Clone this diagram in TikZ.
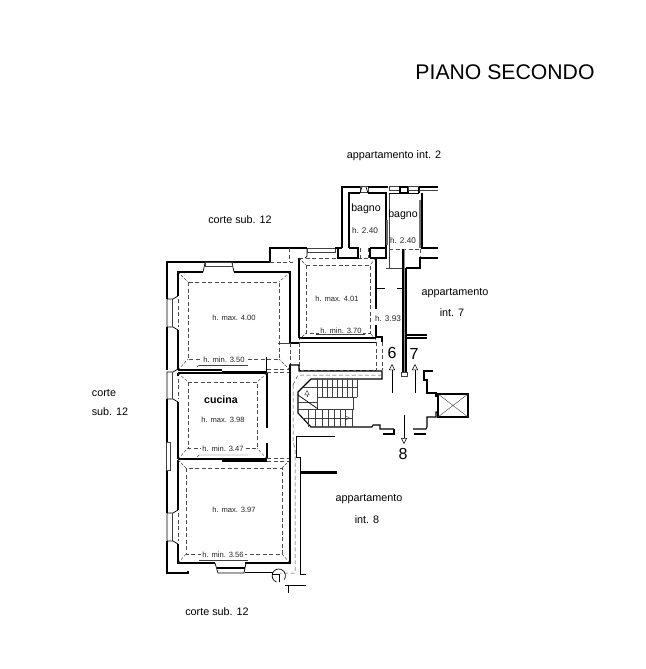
\documentclass[tikz,border=0pt]{standalone}
\usepackage{fontspec}
\setmainfont{Liberation Sans}
\usetikzlibrary{arrows.meta}
\tikzset{
 wall/.style={line width=1.1pt,black,line join=miter},
 wallb/.style={line width=1.9pt,black},
 med/.style={line width=0.7pt,black},
 thin1/.style={line width=0.4pt,black!75},
 dsh/.style={line width=0.5pt,black!70,dash pattern=on 4pt off 2.5pt},
 lab/.style={font=\fontsize{10.8}{12}\selectfont,inner sep=0pt},
 hlab/.style={font=\fontsize{7.6}{9}\selectfont,inner sep=0pt,text=black!85},
 hlabm/.style={font=\fontsize{8.2}{10}\selectfont,inner sep=0pt,text=black!85},
 hlabb/.style={font=\fontsize{10.6}{12}\selectfont,inner sep=0pt},
 num/.style={font=\fontsize{16}{18}\selectfont,inner sep=0pt},
 dirarrow/.style={line width=0.5pt,-{Triangle[open,length=6pt,width=6pt]}},
}
\begin{document}
\begin{tikzpicture}[x=1pt,y=-1pt]
\useasboundingbox (0,0) rectangle (645,669);
\fill[white] (0,0) rectangle (645,669);

% --- outer walls, left building
\draw[wall] (270,262) -- (167,262) -- (167,299);
\draw[wall] (167,327) -- (167,370);
\draw[wall] (167,399) -- (167,442);
\draw[wall] (167,470) -- (167,513);
\draw[wall] (167,541) -- (167,573) -- (188,573) -- (188,571);
\draw[wall] (270,262) -- (270,248) -- (307,248);
\draw[dsh] (270,262) -- (293,262) (289,248) -- (289,262);
% left windows
\foreach \a/\b in {299/327,372/399,513/541}{
 \draw[med] (178,\a-3) -- (173,\a) -- (167,\a) -- (167,\b) -- (173,\b) -- (178,\b+3);
 \draw[thin1] (172,\a) -- (172,\b);
 \draw[dsh] (178,\a) -- (178,\b);
}
\draw[thin1] (166,442) rectangle (170,470);
% --- room 1
\draw[wall] (203,272) -- (178,272) -- (178,296);
\draw[wall] (178,330) -- (178,370);
\draw[wall] (234,272) -- (290,272) -- (290,343) -- (299,343);
\draw[med] (203,272) -- (205,263) (234,272) -- (232,263);
\draw[thin1] (205,262) rectangle (232,266);
\draw[dsh] (188,282) rectangle (279,359);
\foreach \a/\b/\c/\d in {178/272/188/282,290/272/279/282,178/370/188/359,290/370/279/359}{\draw[thin1,dash pattern=on 3pt off 1.5pt] (\a,\b) -- (\c,\d);}
\draw[thin1] (199,365) -- (248,365);
\draw[thin1] (199,365) -- (197,367);
% --- between rooms
\draw[wall] (178,370) -- (222,370);
\draw[wall] (178,373) -- (267,373);
\draw[med] (222,371) -- (267,371);
\draw[med] (266,357) -- (266,371);
\draw[thin1] (278,343) -- (290,343);
\draw[dsh] (267,369) -- (289,369) (267,372) -- (289,372);
\draw[dsh] (290,343) -- (290,365) (299,343) -- (299,365);
% --- cucina
\draw[wall] (178,373) -- (178,376) (178,402) -- (178,459);
\draw[wallb] (267,373) -- (267,428);
\draw[wallb] (267,443) -- (267,459);
\draw[wall] (178,459) -- (267,459);
\draw[wall] (222,461) -- (267,461);
\draw[dsh] (188,382) rectangle (257,448);
\foreach \a/\b/\c/\d in {178/373/188/382,267/373/257/382,178/459/188/448,267/459/257/448}{\draw[thin1,dash pattern=on 3pt off 1.5pt] (\a,\b) -- (\c,\d);}
\draw[thin1] (199,455) -- (248,455) (199,455) -- (197,457);
\draw[dsh] (267,458) -- (289,458) (267,461) -- (289,461);
% --- room 3
\draw[wall] (178,460) -- (178,510) (178,544) -- (178,563) -- (215,563);
\draw[wall] (245,563) -- (290,563) -- (290,365);
\draw[med] (215,563) -- (218,573) -- (244,573) -- (246,563);
\draw[wall] (217,568) -- (245,568);
\draw[dsh] (186,468) rectangle (282,554);
\foreach \a/\b/\c/\d in {178/460/186/468,290/460/282/468,178/563/186/554,290/563/282/554}{\draw[thin1,dash pattern=on 3pt off 1.5pt] (\a,\b) -- (\c,\d);}
\draw[thin1] (199,560) -- (248,560) ;
\draw[dsh] (293,385) -- (293,440) -- (295,450) -- (295,573) -- (280,573);
\draw[med] (245,572) -- (272,572) -- (272,574) -- (279,574) -- (279,582);
\draw[med] (285,585) -- (306,585);
\draw[med] (276.5,582) arc[start angle=110,end angle=395,radius=6.7];
\draw[med] (288,585) -- (288,593);
\draw[med] (306,574.5) -- (300,574.5) -- (300,473);
% lower-right stub walls
\draw[wall] (300,473) -- (337,473);
\draw[med] (300,471) -- (337,471);
\draw[med] (335,436) -- (296,436) -- (296,457) -- (300,457) -- (300,473);

% --- room 2
\draw[wall] (299,262) -- (299,338);
\draw[wall] (299,338) -- (376,338);
\draw[med] (299,342) -- (376,342) ;
\draw[wall] (376,258) -- (376,309);
\draw[wall] (376,325) -- (376,337) -- (382,337) -- (382,342);
\draw[med] (376,288) -- (385,288);
\draw[med] (397,288) -- (404,288);
\draw[dsh] (299,258) -- (370,258);
\draw[wall] (299,258) -- (299,262);
\draw[dsh] (306,265) rectangle (370,333);
\draw[thin1,dash pattern=on 3pt off 1.5pt] (299,258) -- (306,265) (376,258) -- (370,265) (299,340) -- (306,333) (376,340) -- (370,333);
\draw[thin1] (316,334) -- (365,334);
\draw[med] (307,248) -- (307,256) -- (305,258);
\draw[thin1] (307,248) rectangle (335,252);
\draw[wall] (335,248) -- (342,248) (338,248) -- (338,258) -- (358,258) -- (358,248) -- (349,248);
\draw[wall] (342,248) -- (342,187) -- (360,187);
\draw[thin1] (360,186) rectangle (368,192);
\draw[wall] (368,187) -- (388,187);
\draw[med] (362,187) -- (360,193) (366,187) -- (368,193);
% bagno 1
\draw[wall] (360,193) -- (349,193) -- (349,248);
\draw[wall] (368,193) -- (386,193) -- (386,258) -- (370,258);
\draw[wall] (370,248) -- (386,248) (370,248) -- (370,258);
\draw[dsh] (360,248) -- (360,258) (368,248) -- (368,258);
\draw[wallb,black!60] (387,220) -- (387,245);
% bagno 2
\draw[thin1] (389,186) rectangle (400,190);
\draw[thin1] (389,193) -- (389,268) (386,268) -- (403,268);
\draw[wall] (400,187) rectangle (408,193);
\draw[thin1] (408,186) rectangle (418,190);
\draw[med] (389,193) -- (400,193) (408,193) -- (419,193);
\draw[wall] (419,187) -- (438,187);
\draw[wall] (419,187) -- (419,193);
\draw[wallb,black!55] (420,200) -- (420,248);
\draw[wall] (422,193) -- (422,248) -- (438,248);
\draw[thin1] (419,190) -- (438,190);
\draw[dsh] (389,249) -- (420,249);
\draw[dsh] (420,249) -- (420,258);
% long double wall
\draw[wallb,black!45] (404.5,249) -- (404.5,372);
\draw[wall] (403,249) -- (403,372);
\draw[wall] (406,268) -- (406,372);
\draw[thin1,fill=white] (401,372) rectangle (407,376);
\draw[wall] (406,268) -- (420,268) -- (420,258) -- (438,258);
\draw[wall] (406,335) -- (427,335);
\draw[wall] (406,338) -- (427,338);
\draw[dsh] (376,342) -- (376,370) (382,342) -- (382,370);
\draw[dsh] (299,342) -- (299,370) -- (376,370);
% --- landing wall and stair
\draw[wall] (289,365) -- (299,365) -- (299,371) -- (382,371) -- (382,379) -- (372,379) -- (311,379) -- (298,392) -- (298,413) -- (311,427) -- (372,427) -- (373,425) -- (380,425) -- (380,429) -- (394,429);
\draw[wall] (394,429) -- (394,434) -- (383,434);
\draw[dsh] (293,385) -- (298,375) -- (382,375);
\draw[wall] (414,434) -- (426,434);
\draw[wall] (413,429) -- (426,429) -- (427,427) -- (427,417) -- (436,417) -- (436,412) -- (438,412);
\draw[wall] (438,396) -- (436,396) -- (436,393) -- (427,393) -- (427,380) -- (424,380) -- (424,371) -- (433,371);
\draw[thin1,fill=white] (317,397) rectangle (353,409);
\foreach \x in {317,322,...,357}{\draw[thin1] (\x,379) -- (\x,397);}
\foreach \x in {308,315,322,328,334,340,345,352}{\draw[thin1] (\x,409) -- (\x,427);}
\draw[thin1] (303,387) -- (357,387) (353,397) -- (357,397) (298,402) -- (317,402);
\draw[thin1] (298,409) -- (317,409) (302,418) -- (353,418);
\draw[med] (298,395) -- (318,409);
\draw[thin1,-{Triangle[open,length=5pt,width=5pt]}] (307,397) -- (307,390);
\draw[thin1,-{Triangle[open,length=5pt,width=5pt]}] (335,418) -- (350,418);
% elevator
\draw[wall] (438,394) rectangle (468,417);
\draw[thin1] (438,394) -- (468,417) (438,417) -- (468,394);

% dir arrows
\coordinate (a6s) at (392,393); \coordinate (a6e) at (392,364);
\coordinate (a7s) at (415,393); \coordinate (a7e) at (415,364);
\coordinate (a8s) at (404,415); \coordinate (a8e) at (404,444);
\draw[dirarrow] (a6s) -- (a6e);
\draw[dirarrow] (a7s) -- (a7e);
\draw[dirarrow] (a8s) -- (a8e);

% texts
\node[font=\fontsize{21.2}{23}\selectfont,inner sep=0pt] (title) at (505,72) {PIANO SECONDO};
\node[lab] (t1) at (394,156) {appartamento int. 2};
\node[lab] (t2) at (240,220) {corte sub. 12};
\node[hlabb] (t3) at (366,209) {bagno};
\node[hlabm] (t4) at (365,231) {h. 2.40};
\node[hlabb] (t5) at (403,215) {bagno};
\node[hlabm] (t6) at (403,241) {h. 2.40};
\node[lab] (t7) at (455,293) {appartamento};
\node[lab] (t8) at (452,313) {int. 7};
\node[hlab] (t9) at (337,299) {h. max. 4.01};
\node[hlabm,fill=white,inner xsep=0.5pt] (t10) at (388,319) {h. 3.93};
\node[hlab,fill=white,inner xsep=1pt] (t11) at (341,331) {h. min. 3.70};
\node[hlab] (t12) at (234,318) {h. max. 4.00};
\node[hlab,fill=white,inner xsep=1pt] (t13) at (224,360) {h. min. 3.50};
\node[lab] (t14) at (104,393) {corte};
\node[lab] (t15) at (110,412) {sub. 12};
\node[hlabb,font=\fontsize{10.6}{12}\selectfont\bfseries] (t16) at (221,400) {cucina};
\node[hlab] (t17) at (223,420) {h. max. 3.98};
\node[hlab,fill=white,inner xsep=1pt] (t18) at (223,449) {h. min. 3.47};
\node[hlab] (t19) at (234,510) {h. max. 3.97};
\node[hlab,fill=white,inner xsep=1pt] (t20) at (223,555) {h. min. 3.56};
\node[lab] (t21) at (369,499) {appartamento};
\node[lab] (t22) at (367,520) {int. 8};
\node[lab] (t23) at (217,612) {corte sub. 12};
\node[num] (n6) at (392,353) {6};
\node[num] (n7) at (414,354) {7};
\node[num] (n8) at (403,454) {8};
\end{tikzpicture}
\end{document}
